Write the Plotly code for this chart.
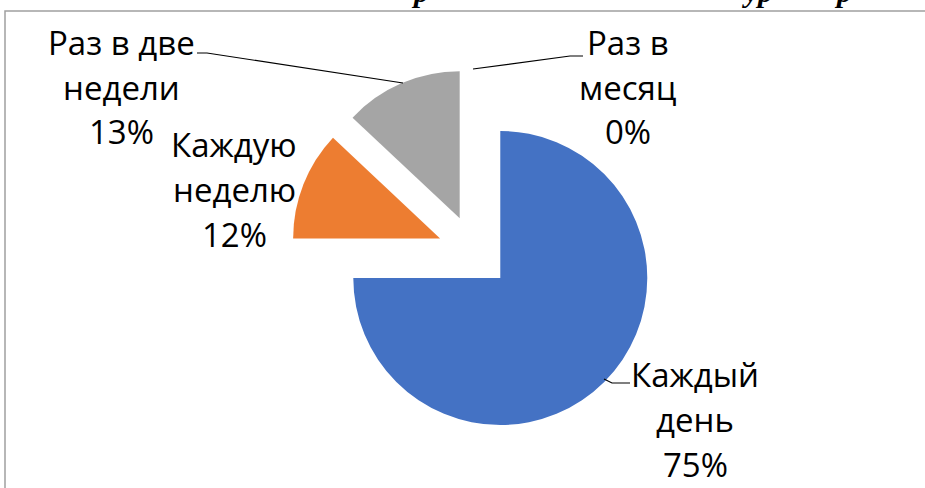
import plotly.graph_objects as go

# ---- data ----
categories = ["Каждый день", "Каждую неделю", "Раз в две недели", "Раз в месяц"]
values = [75, 12, 13, 0]
label_lines = [["Каждый", "день"], ["Каждую", "неделю"], ["Раз в две", "недели"], ["Раз в", "месяц"]]
colors = ["#4472C4", "#ED7D31", "#A5A5A5", "#FFC000"]

# ---- layout helpers (pixel -> paper) ----
W, H = 925, 488
def px(x):
    return x / W
def py(y):
    return 1 - y / H

PULL = 0.25
cx, cy, r = 474.3, 252.0, 147.0
half = r * (1 + PULL)

fig = go.Figure(go.Pie(
    labels=categories,
    values=values,
    sort=False,
    direction="clockwise",
    rotation=0,
    pull=[PULL] * len(values),
    marker=dict(colors=colors, line=dict(width=0)),
    textinfo="none",
    hoverinfo="skip",
    showlegend=False,
    domain=dict(x=[px(cx - half), px(cx + half)], y=[py(cy + half), py(cy - half)]),
))

# label placement: (center x, first baseline) per category, line step
label_pos = [(695, 387), (234, 157), (121, 55), (628, 55)]
line_step = 45
FONT = dict(family="Open Sans", size=33, color="#000000")

total = sum(values)
annotations = []
for lines, v, (lx, lb) in zip(label_lines, values, label_pos):
    all_lines = lines + [f"{round(100 * v / total)}%"]
    for i, t in enumerate(all_lines):
        base = lb + i * line_step
        annotations.append(dict(
            text=t, x=px(lx), y=py(base - 13), xref="paper", yref="paper",
            xanchor="center", yanchor="middle", showarrow=False, font=FONT,
        ))

# cut-off title fragments at the very top
TFONT = dict(family="Liberation Serif", size=30, color="#000000")
for t, tx in [("р", 420), ("ур", 757), ("р", 843)]:
    annotations.append(dict(
        text=f"<b><i>{t}</i></b>", x=px(tx), y=py(1 - 10), xref="paper", yref="paper",
        xanchor="center", yanchor="middle", showarrow=False, font=TFONT,
    ))

def path(points):
    return "M " + " L ".join(f"{px(x)},{py(y)}" for x, y in points)

leaders = [
    [(197, 53), (207, 53), (403, 83)],
    [(473, 69), (570, 56), (583, 56)],
    [(604, 379), (612, 383), (630, 383)],
]
shapes = [dict(type="path", path=path(p), xref="paper", yref="paper",
               line=dict(color="#000000", width=1.2)) for p in leaders]
shapes.append(dict(type="rect", xref="paper", yref="paper",
                   x0=px(5), x1=px(W + 10), y0=py(H + 10), y1=py(11),
                   line=dict(color="#A0A0A0", width=1.5)))

fig.update_layout(
    width=W, height=H,
    margin=dict(l=0, r=0, t=0, b=0),
    paper_bgcolor="#FFFFFF",
    plot_bgcolor="#FFFFFF",
    annotations=annotations,
    shapes=shapes,
)

fig.write_html("out.html", config={"displayModeBar": False},
               post_script="document.body.style.margin='0';document.body.style.overflow='hidden';")
